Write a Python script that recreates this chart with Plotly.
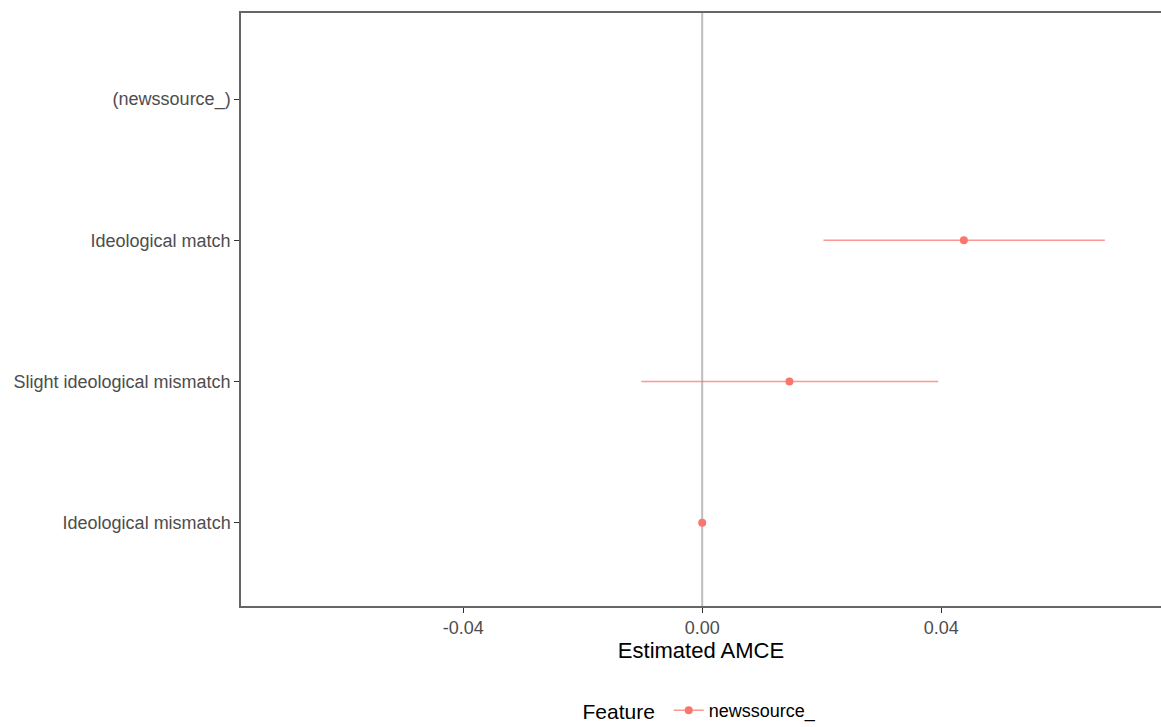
import plotly.graph_objects as go

levels = ["Ideological mismatch", "Slight ideological mismatch", "Ideological match", "(newssource_)"]
estimates = [0.0, 0.0146, 0.0438, None]
lower = [0.0, -0.0102, 0.0203, None]
upper = [0.0, 0.0395, 0.0674, None]
feature = "newssource_"
xticks = [-0.04, 0.0, 0.04]
xticklabels = ["-0.04", "0.00", "0.04"]

ypos = list(range(1, len(levels) + 1))
plus = [(u - e) if e is not None else None for e, u in zip(estimates, upper)]
minus = [(e - l) if e is not None else None for e, l in zip(estimates, lower)]

color = "#F8766D"
fig = go.Figure()
fig.add_vline(x=0, line=dict(color="#BDBDBD", width=2), layer="below")
fig.add_trace(go.Scatter(
    x=estimates, y=ypos, mode="markers",
    marker=dict(color=color, size=8),
    error_x=dict(type="data", symmetric=False, array=plus, arrayminus=minus,
                 color="rgba(248,118,109,0.75)", thickness=1.5, width=0),
    showlegend=False, hoverinfo="x+y",
))
fig.add_trace(go.Scatter(
    x=[None], y=[None], mode="lines+markers", name=feature,
    marker=dict(color=color, size=8),
    line=dict(color="rgba(248,118,109,0.75)", width=1.5),
))

fig.update_layout(
    width=1161, height=727,
    margin=dict(l=241, r=0, t=13, b=121, autoexpand=False),
    paper_bgcolor="white", plot_bgcolor="white",
    font=dict(family="Liberation Sans, Arial, sans-serif"),
    xaxis=dict(range=[-0.0772, 0.0768], tickvals=xticks, ticktext=xticklabels,
               showgrid=False, zeroline=False, showline=True, mirror=True,
               linecolor="#666666", linewidth=1.5, ticks="outside", ticklen=5,
               tickcolor="#333333", tickfont=dict(size=18, color="#4D4D4D"),
               title=dict(text="Estimated AMCE", font=dict(size=22, color="black"), standoff=4)),
    yaxis=dict(range=[0.41, 4.61], tickvals=ypos, ticktext=levels,
               showgrid=False, zeroline=False, showline=True,
               linecolor="#666666", linewidth=1.5, ticks="outside", ticklen=5,
               tickcolor="#333333", tickfont=dict(size=18, color="#4D4D4D")),
    legend=dict(orientation="h", x=0.5, xanchor="center", y=0.022, yanchor="middle",
                yref="container",
                title=dict(text="Feature ", font=dict(size=21, color="black"), side="left"),
                font=dict(size=18, color="black")),
)

fig.write_html(
    "out.html",
    config={"displayModeBar": False},
    post_script=(
        "document.body.style.margin='0';"
        "document.documentElement.style.overflow='hidden';"
        "var d=document.getElementById('{plot_id}');"
        "d.style.position='fixed';d.style.top='0';d.style.left='0';"
    ),
)
